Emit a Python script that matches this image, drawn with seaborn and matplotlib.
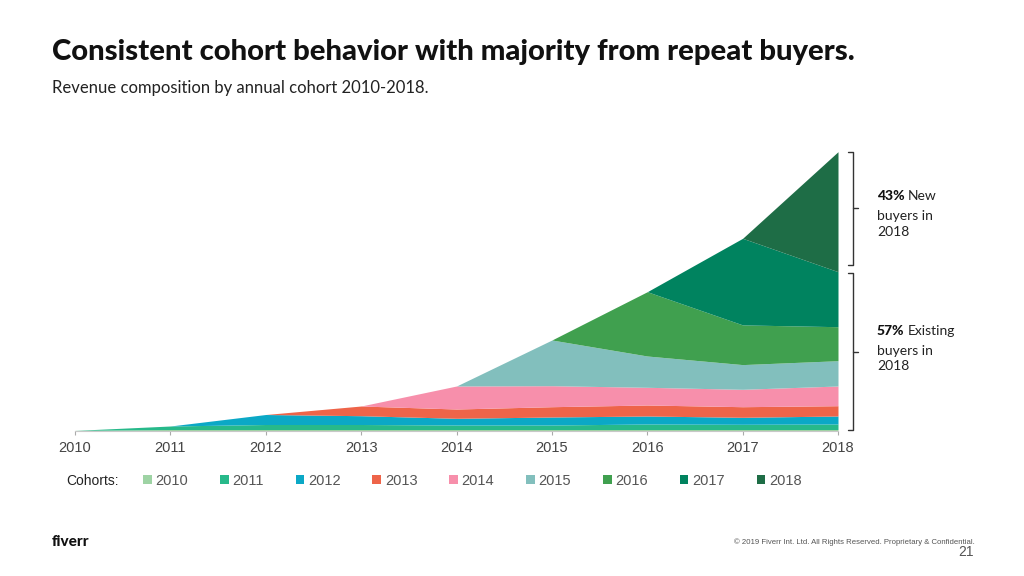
import matplotlib
matplotlib.use("Agg")
import matplotlib.pyplot as plt
import matplotlib.transforms as mtransforms
from matplotlib.patches import Patch
from matplotlib.lines import Line2D
import seaborn as sns

# ---------------- data (revenue by cohort, arbitrary units) ----
years = [2010, 2011, 2012, 2013, 2014, 2015, 2016, 2017, 2018]
cohort_names = ["2010", "2011", "2012", "2013", "2014", "2015", "2016", "2017", "2018"]
c2010 = [0.6, 1.5, 1.5, 1.5, 1.5, 1.5, 1.5, 1.5, 1.5]
c2011 = [0.0, 3.5, 5.0, 5.0, 4.5, 4.5, 5.5, 5.2, 5.5]
c2012 = [0.0, 0.0, 10.0, 8.8, 6.7, 8.0, 8.0, 7.0, 8.0]
c2013 = [0.0, 0.0, 0.0, 9.7, 9.3, 10.3, 11.0, 10.6, 10.3]
c2014 = [0.0, 0.0, 0.0, 0.0, 23.0, 21.0, 17.7, 17.4, 19.7]
c2015 = [0.0, 0.0, 0.0, 0.0, 0.0, 45.7, 31.3, 24.7, 25.3]
c2016 = [0.0, 0.0, 0.0, 0.0, 0.0, 0.0, 64.3, 39.7, 34.0]
c2017 = [0.0, 0.0, 0.0, 0.0, 0.0, 0.0, 0.0, 86.6, 55.0]
c2018 = [0.0, 0.0, 0.0, 0.0, 0.0, 0.0, 0.0, 0.0, 120.0]
series = [c2010, c2011, c2012, c2013, c2014, c2015, c2016, c2017, c2018]

colors = ["#9ed3a4", "#27b98a", "#0ba8c6", "#ee6449", "#f78fab",
          "#82bfbd", "#40a04f", "#00835f", "#1e6d46"]

title = "Consistent cohort behavior with majority from repeat buyers."
subtitle = "Revenue composition by annual cohort 2010-2018."

# ---------------- style ----------------
sns.set_theme(style="white")
plt.rcParams["font.family"] = ["Liberation Sans", "DejaVu Sans"]
palette = sns.color_palette(colors)

W, H = 1024, 576
fig = plt.figure(figsize=(W / 100, H / 100), dpi=100)
fig.patch.set_facecolor("white")

ax = fig.add_axes([75 / W, 1 - 431 / H, 763 / W, 281 / H])
ax.stackplot(years, *series, colors=palette, linewidth=0, antialiased=True)

total_last = sum(s[-1] for s in series)
new_last = c2018[-1]
existing_last = total_last - new_last

ax.set_xlim(years[0], years[-1])
ax.set_ylim(0, 281)
ax.set_yticks([])
ax.set_xticks(years)
ax.set_xticklabels([str(y) for y in years], fontsize=10.5, color="#444444")
for s in ["top", "left", "right"]:
    ax.spines[s].set_visible(False)
ax.spines["bottom"].set_color("#c8c8c8")
ax.spines["bottom"].set_linewidth(0.8)
ax.tick_params(axis="x", direction="out", length=3, width=0.8, color="#aaaaaa", pad=4.5,
               bottom=True)
ax.set_facecolor("white")

# ---------------- brackets ----------------
trans = mtransforms.blended_transform_factory(ax.transAxes, ax.transData)
bx = (853 - 75) / 763
bl = (848 - 75) / 763
br = (858 - 75) / 763

def bracket(y0, y1):
    xs = [bl, bx, bx, bl]
    ys = [y1, y1, y0, y0]
    ax.add_line(Line2D(xs, ys, transform=trans, color="#333333", lw=1.0, clip_on=False))
    ym = (y0 + y1) / 2
    ax.add_line(Line2D([bx, br], [ym, ym], transform=trans, color="#333333", lw=1.0,
                       clip_on=False))
    return ym

ym1 = bracket(existing_last + 7, total_last)
ym2 = bracket(1.0, existing_last - 1.5)

tx = (877 - 75) / 763
pct_new = round(100 * new_last / total_last)
pct_old = 100 - pct_new

def label(ym, pct, word, dy_first):
    t = ax.annotate(f"{pct}%", xy=(tx, ym), xycoords=trans,
                    xytext=(0, -dy_first * 0.72), textcoords="offset points",
                    fontsize=10, fontweight="black", family=["Lato", "DejaVu Sans"],
                    color="#111111", ha="left", va="center", annotation_clip=False)
    ax.annotate(word, xy=(1, 0), xycoords=t, xytext=(2.5, 0), textcoords="offset points",
                fontsize=10, family=["Lato", "DejaVu Sans"], color="#222222",
                ha="left", va="bottom", annotation_clip=False)
    ax.annotate("buyers in\n2018", xy=(tx, ym), xycoords=trans,
                xytext=(0, -(dy_first + 14) * 0.72), textcoords="offset points",
                fontsize=10, family=["Lato", "DejaVu Sans"], color="#222222",
                ha="left", va="top", linespacing=1.35, annotation_clip=False)

label(ym1, pct_new, "New", -12)
label(ym2, pct_old, "Existing", -21)

# ---------------- titles ----------------
fig.text(52 / W, 1 - 52 / H, title, fontsize=21.05, fontweight="black",
         family=["Lato", "DejaVu Sans"], color="#111111", ha="left", va="center")
fig.text(52 / W, 1 - 88 / H, subtitle, fontsize=12,
         family=["Lato", "DejaVu Sans"], color="#222222", ha="left", va="center")

# ---------------- legend ----------------
fig.text(66 / W, 1 - 481 / H, "Cohorts:", fontsize=10, color="#222222",
         ha="left", va="center")
handles = [Patch(facecolor=c, edgecolor="none") for c in palette]
leg = fig.legend(handles, cohort_names, loc="center left",
                 bbox_to_anchor=(143 / W, 1 - 481 / H), ncol=9, frameon=False,
                 fontsize=10.5, handlelength=0.6, handleheight=0.6, handletextpad=0.25,
                 columnspacing=2.18, borderpad=0, borderaxespad=0)
for txt in leg.get_texts():
    txt.set_color("#555555")

# ---------------- footer ----------------
fig.text(52 / W, 1 - 542 / H, "fiverr", fontsize=11, fontweight="black",
         family=["Lato", "DejaVu Sans"], color="#111111", ha="left", va="center")
fig.text(975 / W, 1 - 542 / H,
         "© 2019 Fiverr Int. Ltd. All Rights Reserved. Proprietary & Confidential.",
         fontsize=5.6, color="#555555", ha="right", va="center")
fig.text(974 / W, 1 - 552 / H, "21", fontsize=10, color="#555555", ha="right", va="center")

fig.savefig("out.png", dpi=100, facecolor="white")
